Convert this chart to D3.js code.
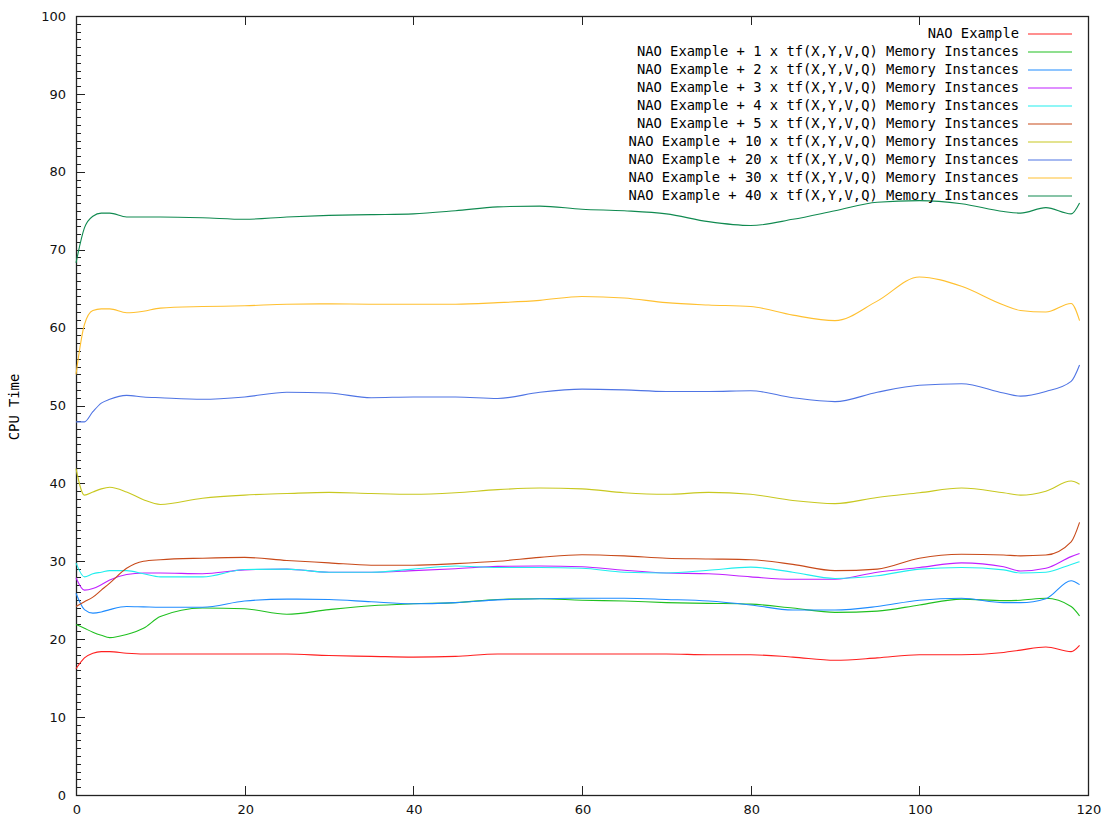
<!DOCTYPE html>
<html>
<head>
<meta charset="utf-8">
<script src="https://cdn.jsdelivr.net/npm/d3@7/dist/d3.min.js"></script>
<style>
  body { margin: 0; background: #fff; }
  svg { display: block; }
  .tick-label { font-family: 'DejaVu Sans', sans-serif; font-size: 13px; fill: #111; }
  .legend-label, .axis-title { font-family: 'DejaVu Sans Mono', monospace; font-size: 13.8px; fill: #000; }
</style>
</head>
<body>
<svg id="chart"></svg>
<script>
// sample positions (seconds)
const xValues = [0, 1, 2, 3, 4, 6, 8, 10, 15, 20, 25, 30, 35, 40, 45, 50, 55, 60, 65, 70,
  75, 80, 85, 90, 95, 100, 105, 110, 112, 115, 118, 119];

const seriesNames = [
  'NAO Example',
  'NAO Example + 1 x tf(X,Y,V,Q) Memory Instances',
  'NAO Example + 2 x tf(X,Y,V,Q) Memory Instances',
  'NAO Example + 3 x tf(X,Y,V,Q) Memory Instances',
  'NAO Example + 4 x tf(X,Y,V,Q) Memory Instances',
  'NAO Example + 5 x tf(X,Y,V,Q) Memory Instances',
  'NAO Example + 10 x tf(X,Y,V,Q) Memory Instances',
  'NAO Example + 20 x tf(X,Y,V,Q) Memory Instances',
  'NAO Example + 30 x tf(X,Y,V,Q) Memory Instances',
  'NAO Example + 40 x tf(X,Y,V,Q) Memory Instances'
];

const nao = [16.2, 17.6, 18.2, 18.4, 18.4, 18.2, 18.1, 18.1, 18.1, 18.1, 18.1, 17.9, 17.8, 17.7, 17.8, 18.1,
  18.1, 18.1, 18.1, 18.1, 18.0, 18.0, 17.7, 17.3, 17.6, 18.0, 18.0, 18.3, 18.6, 19.0, 18.4, 19.2];
const mem1 = [21.9, 21.4, 20.9, 20.5, 20.2, 20.6, 21.4, 22.9, 24.0, 23.9, 23.2, 23.8, 24.3, 24.55, 24.7, 25.1,
  25.2, 25.0, 24.9, 24.7, 24.6, 24.5, 24.0, 23.45, 23.6, 24.4, 25.15, 24.95, 25.0, 25.25, 24.2, 23.0];
const mem2 = [25.9, 23.8, 23.35, 23.5, 23.8, 24.2, 24.15, 24.1, 24.1, 24.9, 25.15, 25.1, 24.8, 24.55, 24.7, 25.05,
  25.2, 25.25, 25.25, 25.1, 24.9, 24.4, 23.75, 23.75, 24.2, 25.0, 25.25, 24.7, 24.7, 25.2, 27.5, 27.0];
const mem3 = [27.9, 26.3, 26.5, 27.0, 27.6, 28.3, 28.5, 28.5, 28.4, 28.9, 29.0, 28.6, 28.6, 28.8, 29.05, 29.35,
  29.4, 29.3, 28.85, 28.5, 28.4, 28.0, 27.7, 27.7, 28.6, 29.2, 29.8, 29.3, 28.75, 29.1, 30.6, 31.0];
const mem4 = [29.8, 28.0, 28.4, 28.6, 28.8, 28.8, 28.4, 28.0, 28.0, 28.95, 29.0, 28.6, 28.6, 29.0, 29.4, 29.2,
  29.2, 29.1, 28.6, 28.5, 28.85, 29.25, 28.6, 27.8, 28.15, 29.0, 29.2, 28.9, 28.5, 28.6, 29.6, 29.95];
const mem5 = [24.2, 24.8, 25.4, 26.3, 27.2, 29.1, 30.0, 30.2, 30.4, 30.5, 30.1, 29.8, 29.5, 29.5, 29.7, 30.0,
  30.5, 30.85, 30.7, 30.4, 30.3, 30.2, 29.6, 28.8, 29.0, 30.4, 30.9, 30.8, 30.7, 30.8, 32.5, 35.0];
const mem10 = [41.9, 38.5, 38.9, 39.3, 39.5, 38.9, 37.9, 37.3, 38.1, 38.5, 38.7, 38.85, 38.7, 38.6, 38.8, 39.2,
  39.4, 39.3, 38.8, 38.6, 38.85, 38.6, 37.8, 37.4, 38.2, 38.8, 39.4, 38.8, 38.5, 39.0, 40.3, 39.9];
const mem20 = [47.9, 47.9, 49.2, 50.3, 50.8, 51.3, 51.1, 51.0, 50.8, 51.1, 51.7, 51.6, 51.0, 51.1, 51.1, 50.9,
  51.7, 52.1, 52.0, 51.8, 51.8, 51.9, 51.0, 50.5, 51.7, 52.6, 52.8, 51.6, 51.2, 51.8, 53.1, 55.2];
const mem30 = [54.0, 60.4, 62.2, 62.4, 62.4, 61.9, 62.1, 62.5, 62.7, 62.8, 63.0, 63.05, 63.0, 63.0, 63.0, 63.2,
  63.5, 64.0, 63.8, 63.2, 62.9, 62.7, 61.6, 60.9, 63.4, 66.5, 65.3, 62.9, 62.2, 62.0, 63.1, 60.9];
const mem40 = [68.3, 72.8, 74.3, 74.7, 74.7, 74.2, 74.2, 74.2, 74.1, 73.9, 74.2, 74.4, 74.5, 74.6, 75.0, 75.5,
  75.6, 75.2, 75.0, 74.6, 73.6, 73.1, 73.9, 75.0, 76.1, 76.3, 75.9, 74.9, 74.7, 75.4, 74.6, 76.0];

const seriesValues = [nao, mem1, mem2, mem3, mem4, mem5, mem10, mem20, mem30, mem40];
const seriesColors = ['#ff2020', '#20c020', '#1f8cff', '#c020ff', '#20eeee',
  '#c84a1a', '#c8c820', '#4f74e4', '#ffc030', '#108a50'];

const xTicks = [0, 20, 40, 60, 80, 100, 120];
const yTicks = [0, 10, 20, 30, 40, 50, 60, 70, 80, 90, 100];

class LineChart {
  constructor(_config) {
    this.config = {
      selection: _config.selection,
      containerWidth: _config.containerWidth || 1104,
      containerHeight: _config.containerHeight || 819,
    };
    this.margin = { left: 76, right: 16, top: 16, bottom: 24 };
    this.init();
  }

  init() {
    let vis = this;

    vis.svg = d3.select(vis.config.selection)
      .attr('width', vis.config.containerWidth)
      .attr('height', vis.config.containerHeight);

    vis.width = vis.config.containerWidth - vis.margin.left - vis.margin.right;
    vis.height = vis.config.containerHeight - vis.margin.top - vis.margin.bottom;

    vis.xScale = d3.scaleLinear().domain([0, 120]).range([0, vis.width]);
    vis.yScale = d3.scaleLinear().domain([0, 100]).range([vis.height, 0]);

    vis.chart = vis.svg.append('g')
      .attr('transform', `translate(${vis.margin.left},${vis.margin.top})`);

    vis.render();
  }

  render() {
    let vis = this;
    const x = vis.xScale, y = vis.yScale;

    // minor y ticks every 1 unit, inside the frame
    vis.chart.append('g')
      .selectAll('line')
      .data(d3.range(0, 101, 1))
      .join('line')
      .attr('x1', 0)
      .attr('x2', d => d % 10 === 0 ? 9 : 5)
      .attr('y1', d => Math.round(y(d)) + 0.5)
      .attr('y2', d => Math.round(y(d)) + 0.5)
      .attr('stroke', '#222')
      .attr('stroke-width', 1);

    // x ticks bottom and top
    const xt = vis.chart.append('g');
    xt.selectAll('.xb')
      .data(xTicks)
      .join('line')
      .attr('x1', d => Math.round(x(d)) + 0.5)
      .attr('x2', d => Math.round(x(d)) + 0.5)
      .attr('y1', vis.height)
      .attr('y2', vis.height - 9)
      .attr('stroke', '#222');
    xt.selectAll('.xt')
      .data(xTicks)
      .join('line')
      .attr('x1', d => Math.round(x(d)) + 0.5)
      .attr('x2', d => Math.round(x(d)) + 0.5)
      .attr('y1', 0)
      .attr('y2', 9)
      .attr('stroke', '#222');

    // tick labels
    vis.chart.append('g')
      .selectAll('text')
      .data(yTicks)
      .join('text')
      .attr('class', 'tick-label')
      .attr('x', -10)
      .attr('y', d => y(d))
      .attr('dy', '0.36em')
      .attr('text-anchor', 'end')
      .text(d => d);

    vis.chart.append('g')
      .selectAll('text')
      .data(xTicks)
      .join('text')
      .attr('class', 'tick-label')
      .attr('x', d => x(d) + 1)
      .attr('y', vis.height + 19)
      .attr('text-anchor', 'middle')
      .text(d => d);

    // frame
    vis.chart.append('rect')
      .attr('x', 0.5)
      .attr('y', 0.5)
      .attr('width', Math.round(vis.width))
      .attr('height', Math.round(vis.height))
      .attr('fill', 'none')
      .attr('stroke', '#222')
      .attr('stroke-width', 1.3);

    vis.svg.append('text')
      .attr('class', 'axis-title')
      .attr('transform', 'translate(19,407) rotate(-90)')
      .attr('text-anchor', 'middle')
      .text('CPU Time');

    // series lines
    const line = d3.line()
      .x(d => x(d[0]))
      .y(d => y(d[1]))
      .curve(d3.curveMonotoneX);

    vis.chart.append('g')
      .selectAll('path')
      .data(seriesValues)
      .join('path')
      .attr('fill', 'none')
      .attr('stroke', (d, i) => seriesColors[i])
      .attr('stroke-width', 1.1)
      .attr('d', vals => line(vals.map((v, j) => [xValues[j], v])));

    // legend
    const legend = vis.svg.append('g')
      .selectAll('g')
      .data(seriesNames)
      .join('g')
      .attr('transform', (d, i) => `translate(0,${33.5 + i * 18})`);

    legend.append('text')
      .attr('class', 'legend-label')
      .attr('x', 1019)
      .attr('dy', '0.35em')
      .attr('text-anchor', 'end')
      .text(d => d);

    legend.append('line')
      .attr('x1', 1028)
      .attr('x2', 1072)
      .attr('y1', 0.5)
      .attr('y2', 0.5)
      .attr('stroke', (d, i) => seriesColors[i])
      .attr('stroke-width', 1.1);
  }
}

new LineChart({ selection: '#chart', containerWidth: 1104, containerHeight: 819 });
</script>
</body>
</html>
